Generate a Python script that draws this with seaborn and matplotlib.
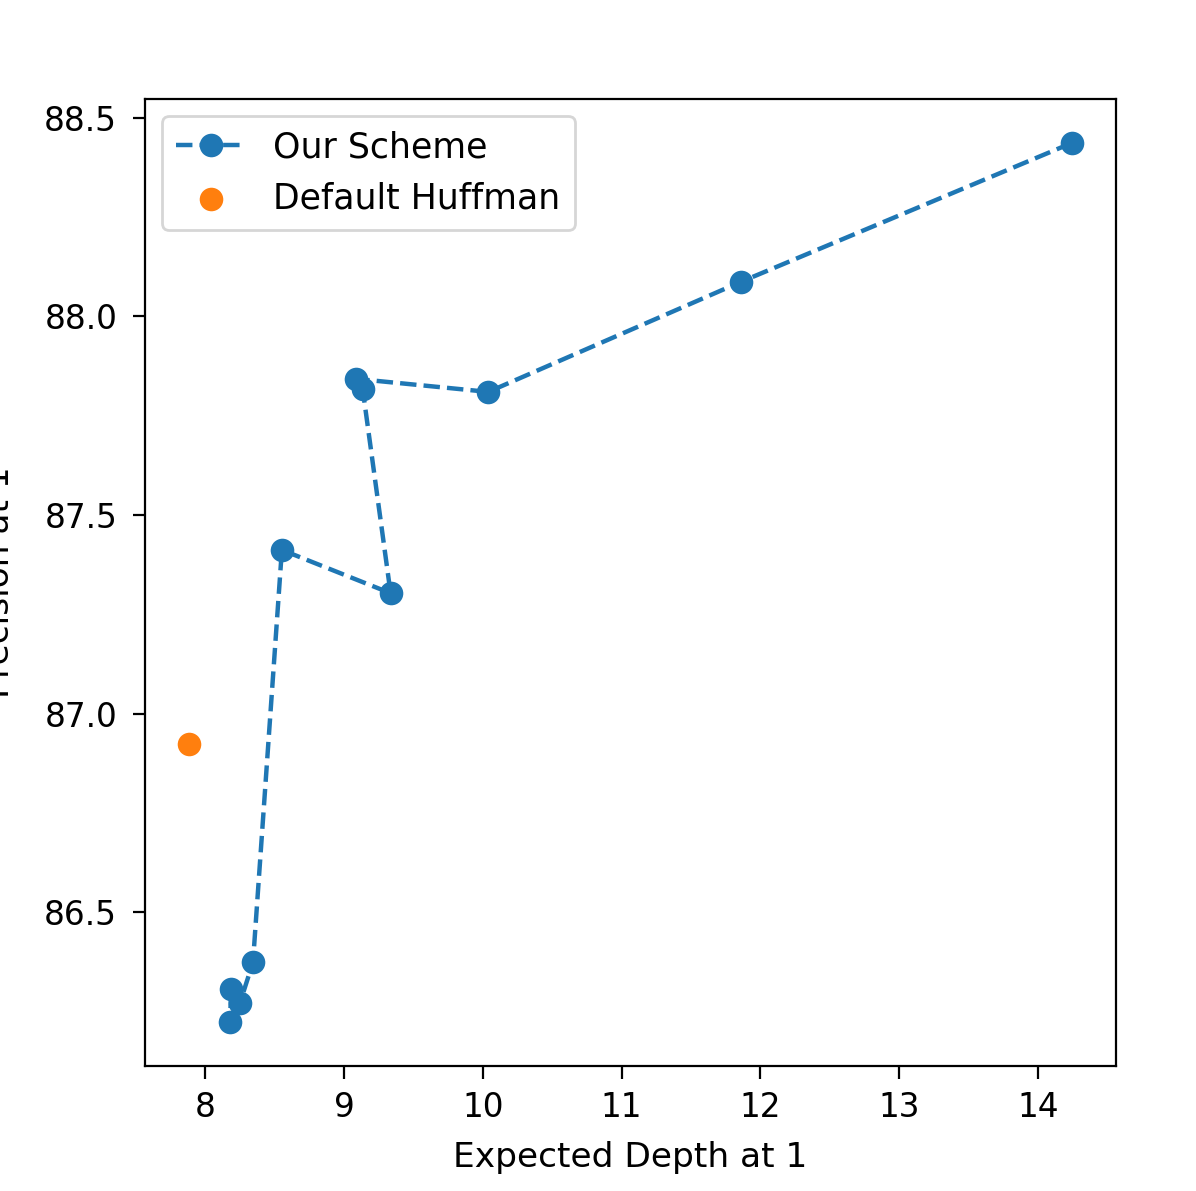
import matplotlib
matplotlib.use("Agg")
import matplotlib.pyplot as plt
import seaborn as sns
import pandas as pd

# Data
scheme_depth = [14.243, 11.858, 10.040, 9.085, 9.135, 9.336, 8.553, 8.345, 8.251, 8.187, 8.180]
scheme_prec = [88.437, 88.087, 87.810, 87.843, 87.817, 87.303, 87.412, 86.374, 86.271, 86.306, 86.223]
huffman_depth = [7.885]
huffman_prec = [86.923]

blue = "#1f77b4"
orange = "#ff7f0e"

plt.rcParams['font.family'] = ['DejaVu Sans']

fig = plt.figure(figsize=(5.98, 5.955), dpi=200)
ax = fig.add_axes([145 / 1196, 1 - 1066 / 1191, (1116 - 145) / 1196, (1066 - 99) / 1191])

df_s = pd.DataFrame({"depth": scheme_depth, "prec": scheme_prec})
df_h = pd.DataFrame({"depth": huffman_depth, "prec": huffman_prec})

sns.lineplot(data=df_s, x="depth", y="prec", sort=False, ax=ax, color=blue,
             linestyle="--", marker="o", markersize=8.5, markeredgecolor=blue,
             markeredgewidth=0, linewidth=1.6, label="Our Scheme")
sns.scatterplot(data=df_h, x="depth", y="prec", ax=ax, color=orange, s=72,
                linewidth=0, label="Default Huffman")

ax.set_xticks([8, 9, 10, 11, 12, 13, 14])
ax.set_yticks([86.5, 87.0, 87.5, 88.0, 88.5])
ax.tick_params(axis="both", labelsize=11.8, length=4.5)
ax.tick_params(axis="x", pad=4.5)
ax.tick_params(axis="y", pad=5.5)
ax.set_xlabel("Expected Depth at 1", fontsize=12.4, labelpad=6)
ax.set_ylabel("Precision at 1", fontsize=12.4)
ax.yaxis.set_label_coords(-0.133, 0.5)
ax.legend(loc="upper left", fontsize=12.5)

fig.savefig("out.png", dpi=200)
